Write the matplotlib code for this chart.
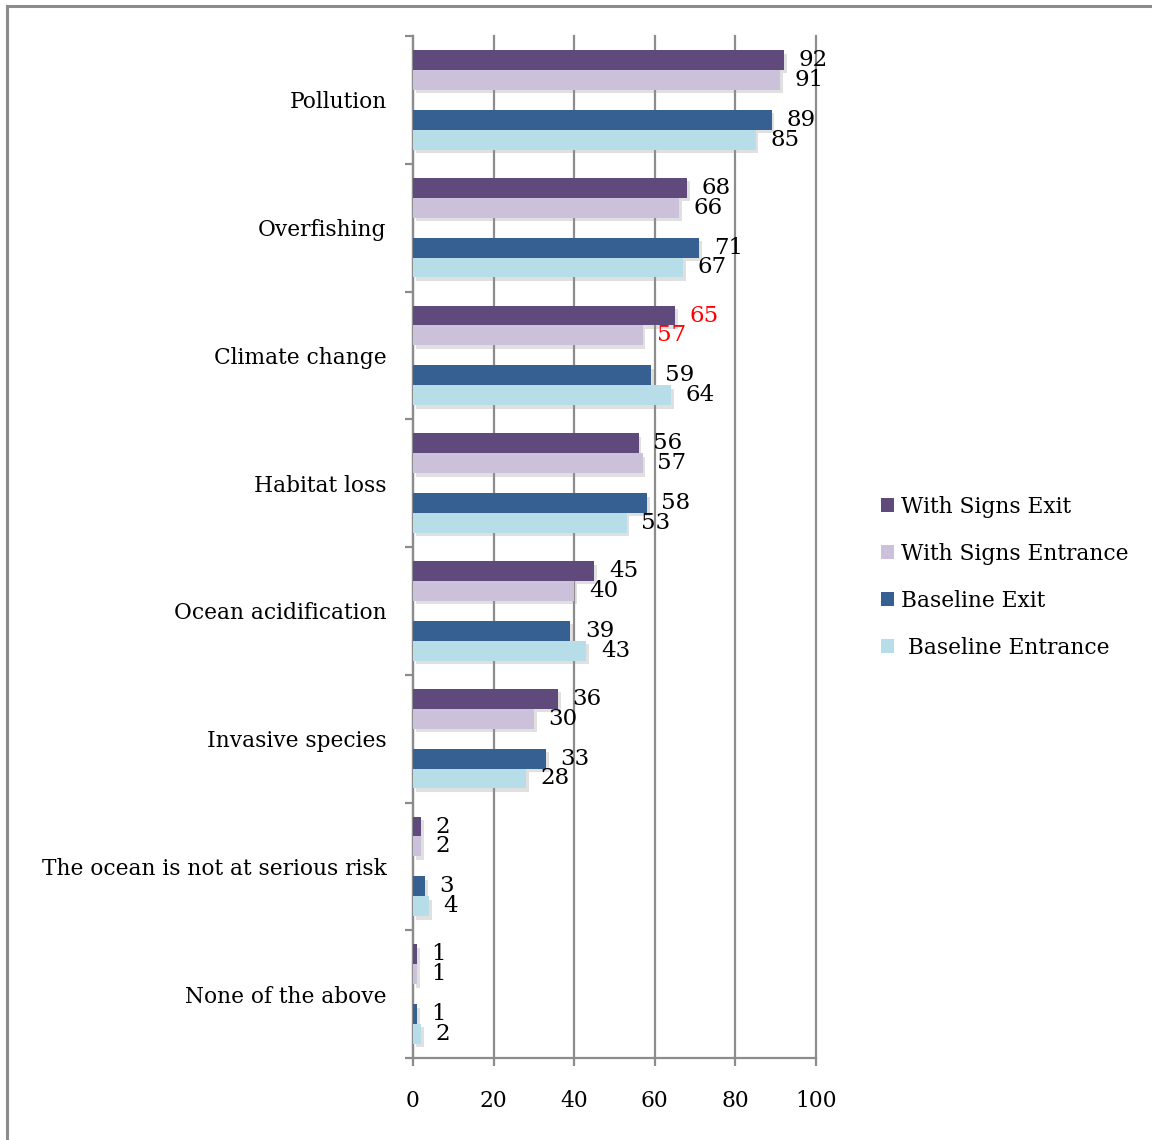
import matplotlib
matplotlib.use('Agg')
import matplotlib.pyplot as plt
import matplotlib.patheffects as pe
from matplotlib.lines import Line2D
from matplotlib.patches import Patch
import numpy as np

plt.rcParams['font.family'] = ['DejaVu Serif']

categories = ['Pollution', 'Overfishing', 'Climate change', 'Habitat loss',
              'Ocean acidification', 'Invasive species',
              'The ocean is not at serious risk', 'None of the above']
signs_exit = [92, 68, 65, 56, 45, 36, 2, 1]
signs_entrance = [91, 66, 57, 57, 40, 30, 2, 1]
base_exit = [89, 71, 59, 58, 39, 33, 3, 1]
base_entrance = [85, 67, 64, 53, 43, 28, 4, 2]
series_names = ['With Signs Exit', 'With Signs Entrance', 'Baseline Exit', ' Baseline Entrance']
colors = ['#604a7b', '#ccc1da', '#376092', '#b7dde8']
# labels highlighted in red (climate change, with signs)
red_labels = {(0, 2), (1, 2)}
fs = 15.7

fig = plt.figure(figsize=(11.52, 11.40), dpi=100)
ax = fig.add_axes([413/1152, 1 - 1058/1140, 403/1152, 1022/1140])

y = np.arange(len(categories))
h = 0.156
# five slots per category, the middle one left empty
offsets = [-2*h, -1*h, 1*h, 2*h]
data = [signs_exit, signs_entrance, base_exit, base_entrance]
shadow = [pe.SimplePatchShadow(offset=(2, -2.5), shadow_rgbFace='#999999', alpha=0.3), pe.Normal()]

for s, (vals, off, col) in enumerate(zip(data, offsets, colors)):
    bars = ax.barh(y + off, vals, height=h, color=col, zorder=3, linewidth=0)
    for b in bars:
        b.set_path_effects(shadow)
    for i, v in enumerate(vals):
        c = 'red' if (s, i) in red_labels else 'black'
        ax.annotate(str(v), (v, y[i] + off), xytext=(10.5, 0), textcoords='offset points',
                    ha='left', va='center', fontsize=16.5, color=c, zorder=5)

ax.set_xlim(0, 100)
ax.set_ylim(len(categories) - 0.5, -0.5)
ax.set_xticks([0, 20, 40, 60, 80, 100])
ax.xaxis.grid(True, color='#8c8c8c', linewidth=1.6, zorder=0)
ax.set_axisbelow(True)
for gl in ax.get_xgridlines():
    gl.set_clip_on(False)

ax.set_yticks(np.arange(len(categories) + 1) - 0.5)
ax.set_yticklabels([])
ax.set_yticks(y, minor=True)
ax.set_yticklabels(categories, minor=True, fontsize=fs)
ax.tick_params(axis='y', which='minor', length=0, pad=19)
ax.tick_params(axis='y', which='major', length=6, width=1.6, color='#8c8c8c')
ax.tick_params(axis='x', length=6, width=1.6, color='#8c8c8c', pad=17, labelsize=fs)

for sp in ['top', 'right']:
    ax.spines[sp].set_visible(False)
for sp in ['left', 'bottom']:
    ax.spines[sp].set_color('#8c8c8c')
    ax.spines[sp].set_linewidth(1.6)

handles = [Patch(facecolor=c, edgecolor='none') for c in colors]
fig.legend(handles, series_names, loc='upper left', bbox_to_anchor=(861/1152, 1 - 476/1140),
           frameon=False, fontsize=fs, handlelength=0.6, handleheight=0.6,
           handletextpad=0.35, labelspacing=1.15)

# outer chart frame (top and left edges visible)
fig.add_artist(Line2D([7/1152, 7/1152], [0, 1 - 6/1140], color='#8c8c8c', linewidth=2.2))
fig.add_artist(Line2D([7/1152, 1], [1 - 6/1140, 1 - 6/1140], color='#8c8c8c', linewidth=2.2))

fig.savefig('out.png', dpi=100)
